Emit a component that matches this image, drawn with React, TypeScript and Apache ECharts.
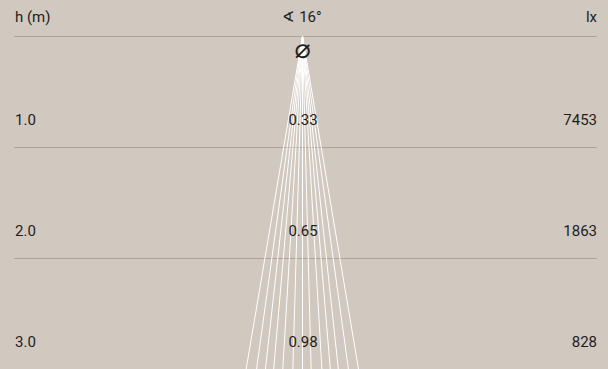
import React, { useEffect, useRef } from "react";
import * as echarts from "echarts";

// Header texts
const headerLeft = "h (m)";
const headerCenter = "∢ 16°";
const headerRight = "lx";
const diameterSymbol = "⌀";

// Rows: mounting height (m), beam diameter (m), illuminance (lx)
const heights = [1.0, 2.0, 3.0];
const heightLabels = ["1.0", "2.0", "3.0"];
const diameterLabels = ["0.33", "0.65", "0.98"];
const luxLabels = ["7453", "1863", "828"];

// Beam rays: horizontal offset (m) of each ray at h = 3.0 m
const beamDepth = 3.0;
const beamEnds = [-0.503, -0.41, -0.331, -0.257, -0.176, -0.086, 0.002, 0.077, 0.173, 0.248, 0.32, 0.41, 0.5];

const BG = "#d1c8bf";
const TEXT = "#1e1e1e";
const RULE = "#aca39a";
const FONT = "15px Roboto, 'Noto Sans', sans-serif";

export default function App() {
  const ref = useRef<HTMLDivElement>(null);

  useEffect(() => {
    if (!ref.current) return;
    const chart = echarts.init(ref.current, undefined, { renderer: "svg" });

    const gridLeft = 14;
    const gridRight = 11;
    const gridTop = 36;
    const pxPerM = 112;
    const centerX = 302.5;
    const xMin = -(centerX - gridLeft) / pxPerM;
    const xMax = (608 - gridRight - centerX) / pxPerM;

    const rowData = heights.map((h, i) => [0, h, i]);

    chart.setOption({
      animation: false,
      backgroundColor: BG,
      grid: { left: gridLeft, right: gridRight, top: gridTop, height: 3 * pxPerM },
      xAxis: {
        type: "value",
        min: xMin,
        max: xMax,
        show: false,
      },
      yAxis: {
        type: "value",
        inverse: true,
        min: 0,
        max: 3,
        interval: 1,
        axisLine: { show: false },
        axisTick: { show: false },
        axisLabel: { show: false },
        splitLine: { show: true, lineStyle: { color: RULE, width: 1 } },
      },
      graphic: [
        {
          type: "text",
          x: 15,
          y: 17,
          style: { text: headerLeft, font: FONT, fill: TEXT, align: "left", verticalAlign: "middle" },
        },
        {
          type: "text",
          x: 302,
          y: 17,
          style: { text: headerCenter, font: FONT, fill: TEXT, align: "center", verticalAlign: "middle" },
        },
        {
          type: "text",
          x: 597,
          y: 17,
          style: { text: headerRight, font: FONT, fill: TEXT, align: "right", verticalAlign: "middle" },
        },
      ],
      series: [
        {
          type: "lines",
          coordinateSystem: "cartesian2d",
          polyline: false,
          silent: true,
          lineStyle: { color: "#ffffff", width: 1, opacity: 1 },
          data: beamEnds.map((x) => ({ coords: [[0, 0], [x, beamDepth]] })),
          z: 2,
        },
        {
          type: "custom",
          coordinateSystem: "cartesian2d",
          silent: true,
          z: 5,
          data: [[0, 0]],
          renderItem: (params: any, api: any) => {
            const p = api.coord([api.value(0), api.value(1)]);
            return {
              type: "text",
              x: p[0],
              y: p[1] + 12,
              style: {
                text: diameterSymbol,
                font: "27px 'DejaVu Sans', sans-serif",
                fill: TEXT,
                align: "center",
                verticalAlign: "middle",
              },
            };
          },
        },
        {
          type: "custom",
          coordinateSystem: "cartesian2d",
          silent: true,
          z: 5,
          data: rowData,
          renderItem: (params: any, api: any) => {
            const idx = api.value(2);
            const p = api.coord([api.value(0), api.value(1)]);
            const cs = params.coordSys;
            const y = p[1] - 27;
            return {
              type: "group",
              children: [
                {
                  type: "text",
                  x: cs.x + 1,
                  y,
                  style: { text: heightLabels[idx], font: FONT, fill: TEXT, align: "left", verticalAlign: "middle" },
                },
                {
                  type: "text",
                  x: p[0] + 0.5,
                  y,
                  style: { text: diameterLabels[idx], font: FONT, fill: TEXT, align: "center", verticalAlign: "middle" },
                },
                {
                  type: "text",
                  x: cs.x + cs.width,
                  y,
                  style: { text: luxLabels[idx], font: FONT, fill: TEXT, align: "right", verticalAlign: "middle" },
                },
              ],
            };
          },
        },
      ],
    });

    return () => chart.dispose();
  }, []);

  return (
    <div
      ref={ref}
      style={{ position: "fixed", left: 0, top: 0, width: 608, height: 369, background: BG }}
    />
  );
}
